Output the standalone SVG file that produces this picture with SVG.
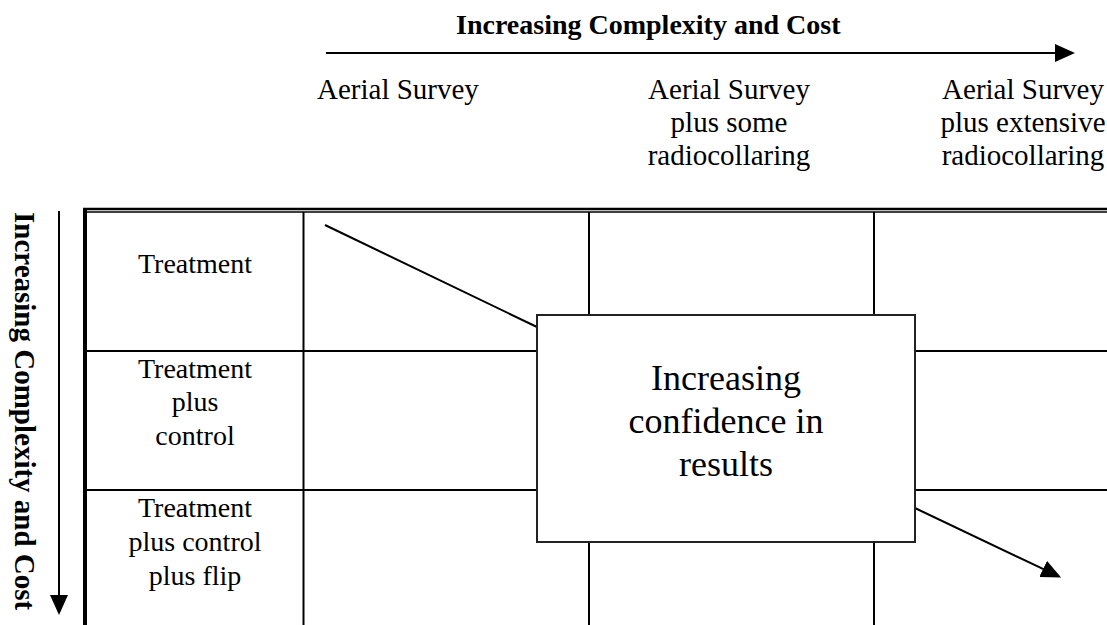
<svg xmlns="http://www.w3.org/2000/svg" width="1107" height="625" viewBox="0 0 1107 625">
<style>
text{font-family:"Liberation Serif","Times New Roman",serif;fill:#000}
.hdr{font-size:29px;text-anchor:middle}
.cell{font-size:28px;text-anchor:middle}
.title{font-size:28px;font-weight:bold}
.grid{stroke:#000;stroke-width:2;fill:none}
.conn{stroke:#000;stroke-width:2;fill:none}
</style>
<defs>
<marker id="ah" viewBox="0 0 20 18" refX="1" refY="9" markerWidth="20" markerHeight="18" markerUnits="userSpaceOnUse" orient="auto">
<path d="M0,0 L20,9 L0,18 z" fill="#000"/>
</marker>
</defs>
<rect width="1107" height="625" fill="#fff"/>
<g id="title-top">
<text class="title" x="456" y="34">Increasing Complexity and Cost</text>
</g>
<g id="title-side">
<text class="title" style="font-size:29px" transform="translate(15,212) rotate(90)">Increasing Complexity and Cost</text>
</g>
<g id="col-headers">
<text x="317" y="99" style="font-size:29px">Aerial Survey</text>
<text class="hdr" x="729" y="99">Aerial Survey</text>
<text class="hdr" x="729" y="132">plus some</text>
<text class="hdr" x="729" y="165">radiocollaring</text>
<text class="hdr" x="1023" y="99">Aerial Survey</text>
<text class="hdr" x="1023" y="132">plus extensive</text>
<text class="hdr" x="1023" y="165">radiocollaring</text>
</g>
<g id="grid">
<line x1="83" y1="209" x2="1107" y2="209" stroke="#000" stroke-width="2.5"/>
<line x1="85" y1="212" x2="1107" y2="212" stroke="#000" stroke-width="1.3"/>
<line x1="85" y1="208" x2="85" y2="625" stroke="#000" stroke-width="4"/>
<line class="grid" x1="303.5" y1="212" x2="303.5" y2="625"/>
<line class="grid" x1="589" y1="212" x2="589" y2="625"/>
<line class="grid" x1="874" y1="212" x2="874" y2="625"/>
<line class="grid" x1="87" y1="351" x2="1107" y2="351"/>
<line class="grid" x1="87" y1="490" x2="1107" y2="490"/>
</g>
<g id="row-labels">
<text class="cell" x="195" y="273">Treatment</text>
<text class="cell" x="195" y="378">Treatment</text>
<text class="cell" x="195" y="411">plus</text>
<text class="cell" x="195" y="445">control</text>
<text class="cell" x="195" y="517">Treatment</text>
<text class="cell" x="195" y="551">plus control</text>
<text class="cell" x="195" y="585">plus flip</text>
</g>
<g id="connectors">
<line class="conn" x1="326" y1="53" x2="1056" y2="53" marker-end="url(#ah)"/>
<line class="conn" x1="59" y1="211" x2="59" y2="596" marker-end="url(#ah)"/>
<line class="conn" x1="325" y1="225" x2="537" y2="327"/>
<line class="conn" x1="915" y1="508" x2="1044" y2="569.4" marker-end="url(#ah)"/>
</g>
<g id="confidence-box">
<rect x="537" y="315" width="378" height="227" fill="#fff" stroke="#222" stroke-width="2"/>
<text x="726" y="390" style="font-size:36px;text-anchor:middle">Increasing</text>
<text x="726" y="433" style="font-size:36px;text-anchor:middle">confidence in</text>
<text x="726" y="476" style="font-size:36px;text-anchor:middle">results</text>
</g>
</svg>
